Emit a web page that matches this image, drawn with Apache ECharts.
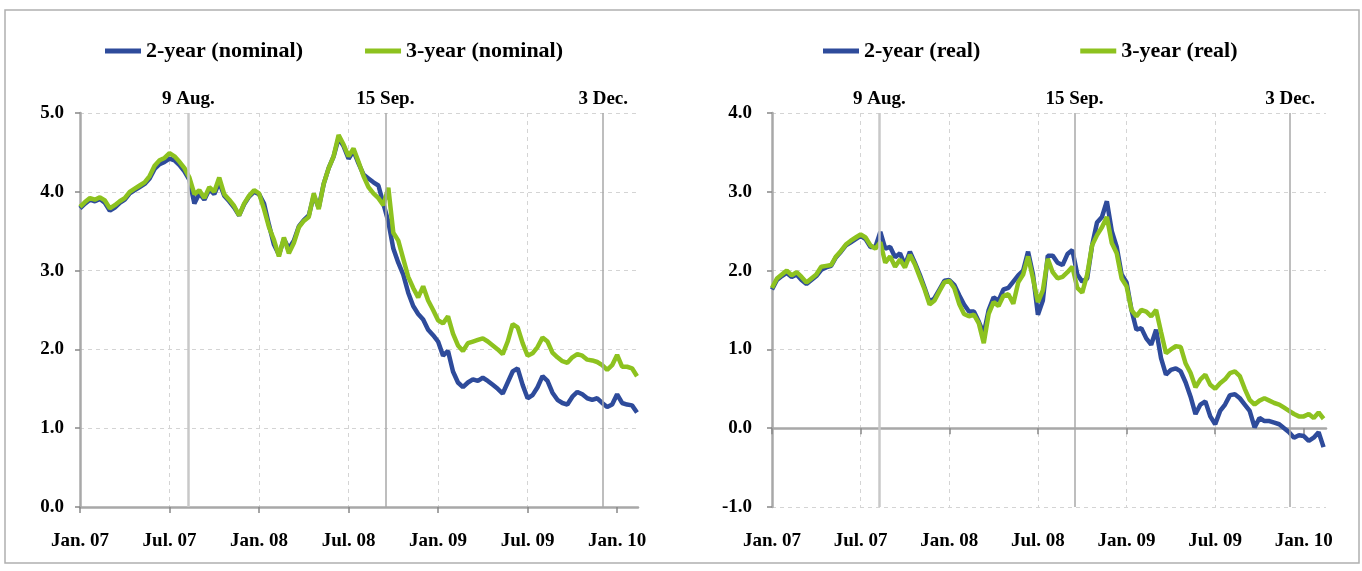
<!DOCTYPE html>
<html>
<head>
<meta charset="utf-8">
<script src="https://cdn.jsdelivr.net/npm/echarts@6/dist/echarts.min.js"></script>
<style>
html, body { margin: 0; padding: 0; background: #fff; }
#chart { width: 1362px; height: 571px; }
</style>
</head>
<body>
<div id="chart"></div>
<script>
// sampling dates: 1st, 11th, 21st of each month, Jan 2007 - Feb 2010
var dates = [];
for (var y = 2007; y <= 2010; y++) {
    for (var mo = 1; mo <= 12; mo++) {
        [1, 11, 21].forEach(function(d) {
            var s = y + '-' + (mo < 10 ? '0' : '') + mo + '-' + (d < 10 ? '0' : '') + d;
            if (s <= '2010-02-11') dates.push(s);
        });
    }
}

// nominal yields (%)
var nominal2y = [
    3.79, 3.85, 3.90, 3.88, 3.91, 3.86, 3.76, 3.80, 3.86, 3.90, 3.98, 4.02,
    4.06, 4.10, 4.17, 4.29, 4.35, 4.38, 4.42, 4.40, 4.34, 4.26, 4.15, 3.85,
    3.98, 3.90, 4.03, 3.97, 4.12, 3.95, 3.88, 3.80, 3.70, 3.84, 3.94, 4.00,
    3.97, 3.85, 3.58, 3.33, 3.20, 3.40, 3.28, 3.38, 3.56, 3.64, 3.70, 3.95,
    3.80, 4.10, 4.30, 4.45, 4.68, 4.58, 4.42, 4.52, 4.36, 4.22, 4.17, 4.12,
    4.08, 3.85, 3.62, 3.28, 3.10, 2.95, 2.72, 2.55, 2.45, 2.38, 2.25, 2.18,
    2.10, 1.92, 1.98, 1.72, 1.58, 1.52, 1.58, 1.62, 1.60, 1.64, 1.60, 1.55,
    1.50, 1.44, 1.58, 1.72, 1.76, 1.55, 1.38, 1.42, 1.52, 1.66, 1.60, 1.45,
    1.36, 1.32, 1.30, 1.40, 1.46, 1.43, 1.38, 1.36, 1.38, 1.32, 1.27, 1.30,
    1.43, 1.32, 1.30, 1.29, 1.20
];
var nominal3y = [
    3.81, 3.87, 3.92, 3.90, 3.93, 3.89, 3.79, 3.83, 3.88, 3.92, 4.00, 4.04,
    4.08, 4.12, 4.20, 4.33, 4.40, 4.43, 4.49, 4.45, 4.38, 4.30, 4.18, 3.97,
    4.02, 3.92, 4.06, 4.00, 4.18, 3.97, 3.90, 3.82, 3.70, 3.85, 3.95, 4.02,
    3.98, 3.78, 3.55, 3.39, 3.18, 3.42, 3.22, 3.35, 3.55, 3.63, 3.68, 3.98,
    3.78, 4.10, 4.30, 4.45, 4.72, 4.60, 4.45, 4.55, 4.38, 4.20, 4.06, 3.98,
    3.92, 3.83, 4.05, 3.48, 3.38, 3.15, 2.92, 2.78, 2.66, 2.80, 2.62, 2.50,
    2.37, 2.33, 2.42, 2.20, 2.05, 1.98, 2.08, 2.10, 2.12, 2.14, 2.10, 2.05,
    2.00, 1.94, 2.10, 2.32, 2.28, 2.08, 1.92, 1.95, 2.03, 2.15, 2.10, 1.96,
    1.90, 1.85, 1.83, 1.90, 1.94, 1.92, 1.87, 1.86, 1.84, 1.80, 1.74, 1.80,
    1.93, 1.78, 1.78, 1.76, 1.66
];

// real yields (%)
var real2y = [
    1.76, 1.88, 1.93, 1.97, 1.92, 1.95, 1.88, 1.83, 1.88, 1.93, 2.01, 2.04,
    2.06, 2.17, 2.24, 2.32, 2.36, 2.40, 2.44, 2.40, 2.30, 2.30, 2.49, 2.28,
    2.30, 2.17, 2.22, 2.07, 2.24, 2.10, 1.95, 1.78, 1.60, 1.65, 1.76, 1.87,
    1.88, 1.82, 1.69, 1.57, 1.48, 1.48, 1.35, 1.20, 1.50, 1.66, 1.62, 1.76,
    1.78, 1.86, 1.94, 2.00, 2.24, 1.95, 1.44, 1.62, 2.19, 2.19, 2.10, 2.07,
    2.21, 2.26, 1.95, 1.86, 1.90, 2.32, 2.61, 2.68, 2.88, 2.50, 2.30, 1.95,
    1.85, 1.50, 1.25, 1.27, 1.14, 1.06, 1.25, 0.89, 0.68, 0.74, 0.76, 0.72,
    0.58, 0.40, 0.18, 0.30, 0.34, 0.15, 0.05, 0.22, 0.30, 0.42, 0.43, 0.38,
    0.30, 0.22, 0.01, 0.13, 0.09, 0.09, 0.07, 0.05, 0.00, -0.05, -0.12, -0.09,
    -0.10, -0.16, -0.12, -0.05, -0.24
];
var real3y = [
    1.78, 1.90, 1.95, 2.00, 1.94, 1.98, 1.92, 1.85, 1.90, 1.95, 2.05, 2.06,
    2.07, 2.18, 2.25, 2.33, 2.38, 2.42, 2.46, 2.42, 2.32, 2.28, 2.36, 2.10,
    2.18, 2.05, 2.14, 2.04, 2.20, 2.08, 1.92, 1.76, 1.57, 1.62, 1.74, 1.85,
    1.87, 1.78, 1.58, 1.45, 1.42, 1.44, 1.33, 1.08, 1.45, 1.60, 1.55, 1.68,
    1.70, 1.58, 1.85, 1.95, 2.18, 1.90, 1.60, 1.75, 2.15, 1.98, 1.90, 1.92,
    1.98, 2.05, 1.78, 1.72, 1.95, 2.32, 2.45, 2.55, 2.68, 2.35, 2.22, 1.90,
    1.80, 1.50, 1.42, 1.50, 1.48, 1.42, 1.50, 1.22, 0.95, 1.00, 1.04, 1.03,
    0.82, 0.70, 0.52, 0.62, 0.68, 0.55, 0.50, 0.57, 0.62, 0.70, 0.72, 0.66,
    0.50, 0.36, 0.30, 0.35, 0.38, 0.35, 0.32, 0.30, 0.26, 0.22, 0.18, 0.15,
    0.15, 0.18, 0.13, 0.20, 0.12
];

var xTickLabels = ['Jan. 07', 'Jul. 07', 'Jan. 08', 'Jul. 08', 'Jan. 09', 'Jul. 09', 'Jan. 10'];
var xTickPos = [0, 6, 12, 18, 24, 30, 36];
var eventDates = ['2007-08-09', '2008-09-15', '2009-12-03'];
var eventLabels = ['9 Aug.', '15 Sep.', '3 Dec.'];

// date string -> months since Jan 2007
function monthPos(s) {
    var p = s.split('-');
    return (+p[0] - 2007) * 12 + (+p[1] - 1) + (+p[2] - 1) / 30;
}
function pairs(vals) {
    return dates.map(function(d, i) { return [monthPos(d), vals[i]]; });
}

var FONT = "'Liberation Serif', 'Times New Roman', serif";
var BLUE = '#2e4b9b';
var GREEN = '#8dc21f';

var eventLine = {
    silent: true,
    symbol: 'none',
    animation: false,
    label: {
        show: true,
        position: 'end',
        distance: 4,
        fontFamily: FONT, fontWeight: 'bold', fontSize: 19, color: '#000',
        formatter: function(p) { return eventLabels[p.dataIndex]; }
    },
    data: eventDates.map(function(d, i) {
        return {
            xAxis: monthPos(d),
            lineStyle: i === 0 ? { color: '#c8c8c8', width: 2.5, type: 'solid' }
                               : { color: '#a8a8a8', width: 1.5, type: 'solid' }
        };
    })
};

function xAxisCfg(grid, max, extra) {
    var a = {
        type: 'value',
        gridIndex: grid,
        min: 0,
        max: max,
        interval: 6,
        axisLine: { show: true, lineStyle: { color: '#a8a8a8', width: 2.5 } },
        axisTick: { show: true, length: 6, customValues: xTickPos, lineStyle: { color: '#888', width: 1.5 } },
        axisLabel: {
            show: true, margin: 25, customValues: xTickPos,
            fontFamily: FONT, fontWeight: 'bold', fontSize: 19, color: '#000',
            formatter: function(v) { var k = xTickPos.indexOf(Math.round(v)); return k >= 0 && Math.abs(v - xTickPos[k]) < 0.01 ? xTickLabels[k] : ''; }
        },
        splitLine: { show: true, showMaxLine: false, lineStyle: { color: '#d4d4d4', type: [4, 4], width: 1 } }
    };
    for (var k in extra) a[k] = extra[k];
    return a;
}

function yAxisCfg(grid, min, max, margin) {
    return {
        type: 'value',
        gridIndex: grid,
        min: min,
        max: max,
        interval: 1,
        axisLine: { show: true, lineStyle: { color: '#a8a8a8', width: 2.5 } },
        axisTick: { show: true, length: 5, lineStyle: { color: '#888', width: 1.5 } },
        axisLabel: {
            margin: margin,
            fontFamily: FONT, fontWeight: 'bold', fontSize: 19, color: '#000',
            formatter: function(v) { return v.toFixed(1); }
        },
        splitLine: { show: true, lineStyle: { color: '#d4d4d4', type: [4, 4], width: 1 } }
    };
}

function line(name, vals, color, axisIdx, withEvents) {
    var s = {
        name: name,
        type: 'line',
        xAxisIndex: axisIdx.x,
        yAxisIndex: axisIdx.y,
        data: pairs(vals),
        showSymbol: false,
        symbol: 'none',
        color: color,
        lineStyle: { color: color, width: 4.5 },
        z: 3
    };
    if (withEvents) s.markLine = eventLine;
    return s;
}

var legendText = { fontFamily: FONT, fontWeight: 'bold', fontSize: 22, color: '#000' };

var chart = echarts.init(document.getElementById('chart'));
chart.setOption({
    animation: false,
    backgroundColor: '#fff',
    graphic: [{
        type: 'rect',
        shape: { x: 5, y: 10, width: 1354, height: 553 },
        style: { fill: 'none', stroke: '#b0b0b0', lineWidth: 1.5 },
        silent: true
    }],
    legend: [{
        data: ['2-year (nominal)', '3-year (nominal)'],
        left: 100, top: 35,
        icon: 'rect', itemWidth: 36, itemHeight: 5, itemGap: 62,
        textStyle: legendText
    }, {
        data: ['2-year (real)', '3-year (real)'],
        left: 818, top: 35,
        icon: 'rect', itemWidth: 36, itemHeight: 5, itemGap: 100,
        textStyle: legendText
    }],
    grid: [
        { left: 80, top: 113, width: 558, height: 394 },
        { left: 772, top: 113, width: 554, height: 394 }
    ],
    xAxis: [
        xAxisCfg(0, 37.4, {}),
        xAxisCfg(1, 37.5, { axisLine: { show: true, onZero: true, lineStyle: { color: '#a8a8a8', width: 2.5 } }, axisLabel: { show: false } }),
        xAxisCfg(1, 37.5, { position: 'bottom', axisLine: { show: false, onZero: false }, axisTick: { show: false }, splitLine: { show: false } })
    ],
    yAxis: [
        yAxisCfg(0, 0, 5, 16),
        yAxisCfg(1, -1, 4, 20)
    ],
    series: [
        line('2-year (nominal)', nominal2y, BLUE, { x: 0, y: 0 }, true),
        line('3-year (nominal)', nominal3y, GREEN, { x: 0, y: 0 }, false),
        line('2-year (real)', real2y, BLUE, { x: 1, y: 1 }, true),
        line('3-year (real)', real3y, GREEN, { x: 1, y: 1 }, false)
    ]
});
</script>
</body>
</html>
